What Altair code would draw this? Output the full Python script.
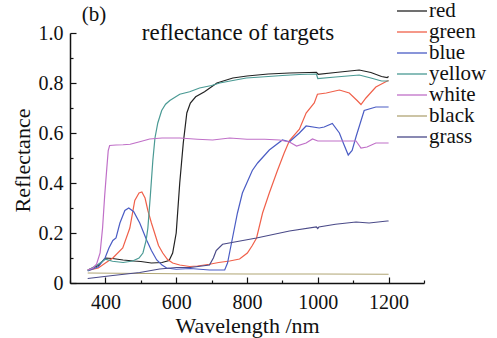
import altair as alt
import pandas as pd

# ---- data ----
red_wl = [350, 380, 400, 420, 450, 480, 500, 530, 560, 580, 590, 600, 610, 615, 620, 630, 640, 655, 680, 715, 760, 800, 860, 920, 975, 996, 1001, 1050, 1117, 1150, 1180, 1196, 1200]
red_v = [0.052, 0.07, 0.10, 0.098, 0.092, 0.088, 0.086, 0.080, 0.082, 0.09, 0.12, 0.20, 0.40, 0.48, 0.56, 0.68, 0.72, 0.745, 0.765, 0.80, 0.82, 0.828, 0.836, 0.84, 0.842, 0.843, 0.835, 0.842, 0.852, 0.842, 0.826, 0.822, 0.826]

green_wl = [350, 380, 400, 421, 449, 469, 483, 495, 503, 512, 520, 530, 539, 550, 562, 575, 590, 610, 638, 660, 694, 720, 751, 779, 801, 815, 827, 844, 863, 886, 905, 920, 948, 967, 990, 999, 1024, 1061, 1089, 1111, 1122, 1136, 1164, 1196, 1200]
green_v = [0.05, 0.06, 0.08, 0.10, 0.14, 0.22, 0.33, 0.36, 0.364, 0.34, 0.29, 0.24, 0.20, 0.15, 0.12, 0.095, 0.08, 0.072, 0.066, 0.068, 0.075, 0.082, 0.088, 0.096, 0.12, 0.15, 0.18, 0.28, 0.36, 0.45, 0.52, 0.57, 0.615, 0.68, 0.72, 0.755, 0.76, 0.772, 0.76, 0.73, 0.714, 0.74, 0.784, 0.808, 0.81]

blue_wl = [350, 380, 399, 410, 421, 430, 441, 455, 466, 480, 497, 517, 530, 545, 560, 573, 600, 640, 694, 737, 745, 752, 759, 773, 787, 815, 830, 863, 900, 920, 948, 967, 1004, 1018, 1041, 1061, 1072, 1086, 1097, 1108, 1131, 1164, 1200]
blue_v = [0.048, 0.065, 0.10, 0.14, 0.17, 0.18, 0.24, 0.29, 0.30, 0.285, 0.24, 0.17, 0.13, 0.092, 0.072, 0.06, 0.055, 0.058, 0.052, 0.052, 0.08, 0.13, 0.18, 0.28, 0.36, 0.45, 0.48, 0.532, 0.572, 0.565, 0.60, 0.628, 0.62, 0.624, 0.638, 0.60, 0.56, 0.512, 0.53, 0.585, 0.69, 0.704, 0.704]

yellow_wl = [350, 380, 400, 420, 450, 477, 495, 506, 515, 520, 527, 534, 540, 548, 559, 570, 582, 610, 638, 666, 700, 723, 760, 798, 850, 900, 948, 996, 1000, 1050, 1117, 1150, 1180, 1200]
yellow_v = [0.05, 0.075, 0.095, 0.087, 0.082, 0.088, 0.10, 0.12, 0.17, 0.22, 0.35, 0.49, 0.58, 0.64, 0.69, 0.715, 0.73, 0.755, 0.765, 0.78, 0.79, 0.80, 0.81, 0.82, 0.825, 0.83, 0.834, 0.836, 0.818, 0.824, 0.832, 0.82, 0.808, 0.808]

white_wl = [350, 365, 375, 385, 392, 398, 404, 408, 412, 430, 450, 470, 497, 525, 560, 610, 660, 703, 751, 800, 850, 892, 920, 940, 967, 985, 1000, 1050, 1108, 1122, 1139, 1164, 1200]
white_v = [0.052, 0.06, 0.075, 0.12, 0.22, 0.35, 0.46, 0.53, 0.55, 0.552, 0.553, 0.555, 0.565, 0.576, 0.58, 0.58, 0.575, 0.572, 0.58, 0.575, 0.575, 0.572, 0.564, 0.548, 0.56, 0.576, 0.568, 0.568, 0.568, 0.54, 0.544, 0.56, 0.56]

black_wl = [350, 600, 800, 1000, 1200]
black_v = [0.040, 0.037, 0.036, 0.036, 0.035]

grass_wl = [350, 421, 497, 553, 601, 640, 694, 705, 713, 731, 765, 827, 920, 996, 1000, 1003, 1050, 1108, 1145, 1196, 1200]
grass_v = [0.018, 0.03, 0.042, 0.056, 0.062, 0.062, 0.072, 0.10, 0.13, 0.155, 0.164, 0.18, 0.208, 0.224, 0.218, 0.224, 0.235, 0.244, 0.24, 0.248, 0.248]

series_names = ["red", "green", "blue", "yellow", "white", "black", "grass"]
series_colors = ["#222222", "#f0604a", "#4a5cc4", "#4a9a94", "#c070c8", "#b0a574", "#4a4a88"]
series_data = [(red_wl, red_v), (green_wl, green_v), (blue_wl, blue_v), (yellow_wl, yellow_v),
               (white_wl, white_v), (black_wl, black_v), (grass_wl, grass_v)]

x_ticks = [300, 400, 500, 600, 700, 800, 900, 1000, 1100, 1200, 1300]
y_ticks = [0, 0.1, 0.2, 0.3, 0.4, 0.5, 0.6, 0.7, 0.8, 0.9, 1.0]

panel_label = "(b)"
chart_title = "reflectance of targets"

rows = []
for name, (wl, vals) in zip(series_names, series_data):
    for w, v in zip(wl, vals):
        rows.append({"target": name, "wl": w, "r": v})
df = pd.DataFrame(rows)

FONT = "Liberation Serif"

lines = alt.Chart(df).mark_line(strokeWidth=1.2, clip=True).encode(
    x=alt.X("wl:Q", scale=alt.Scale(domain=[300, 1300], nice=False, zero=False),
            axis=alt.Axis(values=x_ticks, orient="bottom", title="Wavelength /nm", format="d",
                          tickSize={"expr": "datum.value % 200 == 0 ? -6 : -3"},
                          labelExpr="datum.value % 200 == 0 && datum.value < 1300 ? datum.label : ''",
                          labelPadding=15, titleY=49, titleBaseline="alphabetic",
                          labelFont=FONT, titleFont=FONT)),
    y=alt.Y("r:Q", scale=alt.Scale(domain=[0, 1], nice=False),
            axis=alt.Axis(values=y_ticks, orient="left", title="Reflectance",
                          tickSize={"expr": "round(datum.value * 10) % 2 == 0 ? -6 : -3"},
                          labelExpr="round(datum.value * 10) % 2 == 0 ? (datum.value == 0 ? '0' : format(datum.value, '.1f')) : ''",
                          labelPadding=13, titleX=-48, titleY=127, titleBaseline="middle",
                          labelFont=FONT, titleFont=FONT)),
    color=alt.Color("target:N", sort=series_names,
                    scale=alt.Scale(domain=series_names, range=series_colors),
                    legend=alt.Legend(title=None, orient="none", legendX=331, legendY=-33,
                                      symbolType="M-1.5,0L1.5,0", symbolSize=400,
                                      symbolStrokeWidth=1.3, labelFont=FONT, labelFontSize=21,
                                      labelColor="#111", labelOffset=6, rowPadding=0, padding=0)),
)

texts = alt.Chart(alt.Data(values=[{"t": panel_label, "kind": "panel"},
                                   {"t": chart_title, "kind": "title"}]))

panel = texts.transform_filter("datum.kind == 'panel'").mark_text(
    font=FONT, fontSize=21, color="#111", align="center", baseline="middle"
).encode(x=alt.value(24), y=alt.value(-18), text="t:N")

title = texts.transform_filter("datum.kind == 'title'").mark_text(
    font=FONT, fontSize=23, color="#111", align="center", baseline="middle"
).encode(x=alt.value(168), y=alt.value(0), text="t:N")

chart = alt.layer(lines, panel, title).properties(
    width=354, height=250,
    autosize=alt.AutoSizeParams(type="none"),
    padding={"left": 70, "top": 33, "right": 73, "bottom": 55},
    background="white",
).configure(font=FONT).configure_view(stroke=None).configure_axis(
    grid=False, domainColor="#111", domainWidth=1.5, tickColor="#111", tickWidth=1.2,
    labelFont=FONT, labelFontSize=20, labelColor="#111",
    titleFont=FONT, titleFontSize=22, titleFontWeight="normal", titleColor="#111",
).configure_legend(labelFont=FONT)

chart.save("out.html", embed_options={"renderer": "svg", "actions": False})
